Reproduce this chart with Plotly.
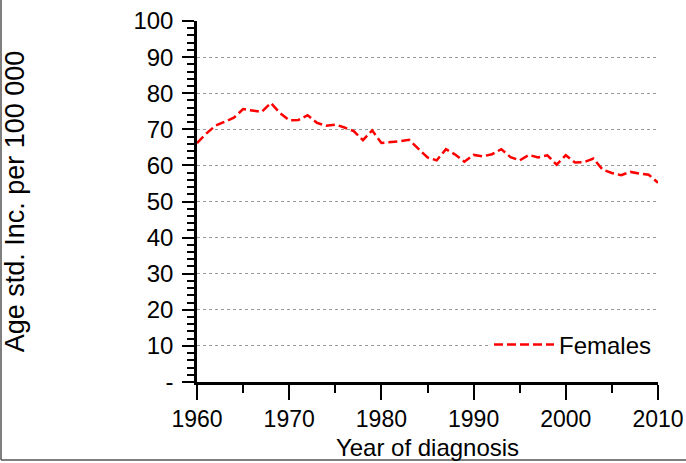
import plotly.graph_objects as go

years = list(range(1960, 2011))
females = [66.2, 68.8, 71.0, 72.2, 73.2, 75.6, 75.2, 74.8, 77.3, 74.5,
           72.5, 72.6, 73.9, 71.8, 71.0, 71.3, 70.5, 69.5, 67.0, 69.7,
           66.2, 66.4, 66.7, 67.1, 64.6, 62.2, 61.4, 64.5, 63.0, 61.0,
           62.9, 62.5, 63.1, 64.5, 62.3, 61.4, 62.9, 62.2, 62.8, 60.2,
           62.8, 60.8, 60.9, 61.9, 58.8, 57.9, 57.3, 58.2, 57.7, 57.4,
           55.2]
y_tickvals = [0, 10, 20, 30, 40, 50, 60, 70, 80, 90, 100]
y_ticktext = ["-", "10", "20", "30", "40", "50", "60", "70", "80", "90", "100"]
x_tickvals = [1960, 1970, 1980, 1990, 2000, 2010]

FONT = "Arial, Liberation Sans, sans-serif"

fig = go.Figure()
fig.add_trace(go.Scatter(
    x=years, y=females, mode="lines", name="Females",
    line=dict(color="#ff0000", width=2.5, dash="9px,4px"),
))

W, H = 686, 463
L, R, T, B = 197, 28, 21, 81
pw, ph = W - L - R, H - T - B

def px_to_paper_x(px):
    return (px - L) / pw

def px_to_paper_y(py):
    return (H - B - py) / ph

fig.update_layout(
    width=W, height=H,
    margin=dict(l=L, r=R, t=T, b=B),
    paper_bgcolor="white", plot_bgcolor="white",
    font=dict(family=FONT, size=23, color="black"),
    showlegend=True,
    legend=dict(
        x=px_to_paper_x(489), y=px_to_paper_y(345),
        xanchor="left", yanchor="middle",
        bgcolor="white", borderwidth=0,
        font=dict(size=24, family=FONT, color="black"),
        itemwidth=60,
    ),
    xaxis=dict(
        range=[1960, 2010],
        tickvals=x_tickvals,
        ticks="outside", ticklen=15, tickwidth=2, tickcolor="black",
        minor=dict(dtick=5, ticks="outside", ticklen=8, tickwidth=2, tickcolor="black", showgrid=False),
        showline=True, linecolor="black", linewidth=2.5,
        showgrid=False, zeroline=False, automargin=False,
        tickfont=dict(size=23),
        title=dict(text="Year of diagnosis", font=dict(size=24), standoff=8),
    ),
    yaxis=dict(
        range=[0, 100],
        tickvals=y_tickvals, ticktext=y_ticktext,
        ticks="outside", ticklen=12, tickwidth=2, tickcolor="black",
        minor=dict(dtick=2, ticks="outside", ticklen=7, tickwidth=1.5, tickcolor="black", showgrid=False),
        showline=True, linecolor="black", linewidth=2.5,
        showgrid=True, gridcolor="#9a9a9a", gridwidth=1, griddash="dot",
        zeroline=False, automargin=False,
        ticklabelstandoff=4,
        tickfont=dict(size=24),
        title=dict(text="Age std. Inc. per 100 000", font=dict(size=27), standoff=102),
    ),
    shapes=[
        dict(type="line", xref="paper", yref="paper",
             x0=px_to_paper_x(1), x1=px_to_paper_x(1),
             y0=px_to_paper_y(0), y1=px_to_paper_y(460),
             line=dict(color="#555555", width=1.5)),
        dict(type="line", xref="paper", yref="paper",
             x0=px_to_paper_x(1), x1=px_to_paper_x(686),
             y0=px_to_paper_y(460), y1=px_to_paper_y(460),
             line=dict(color="#555555", width=1.5)),
    ],
)

fig.write_html("out.html", config={"displayModeBar": False},
               post_script="document.body.style.margin='0px';")
